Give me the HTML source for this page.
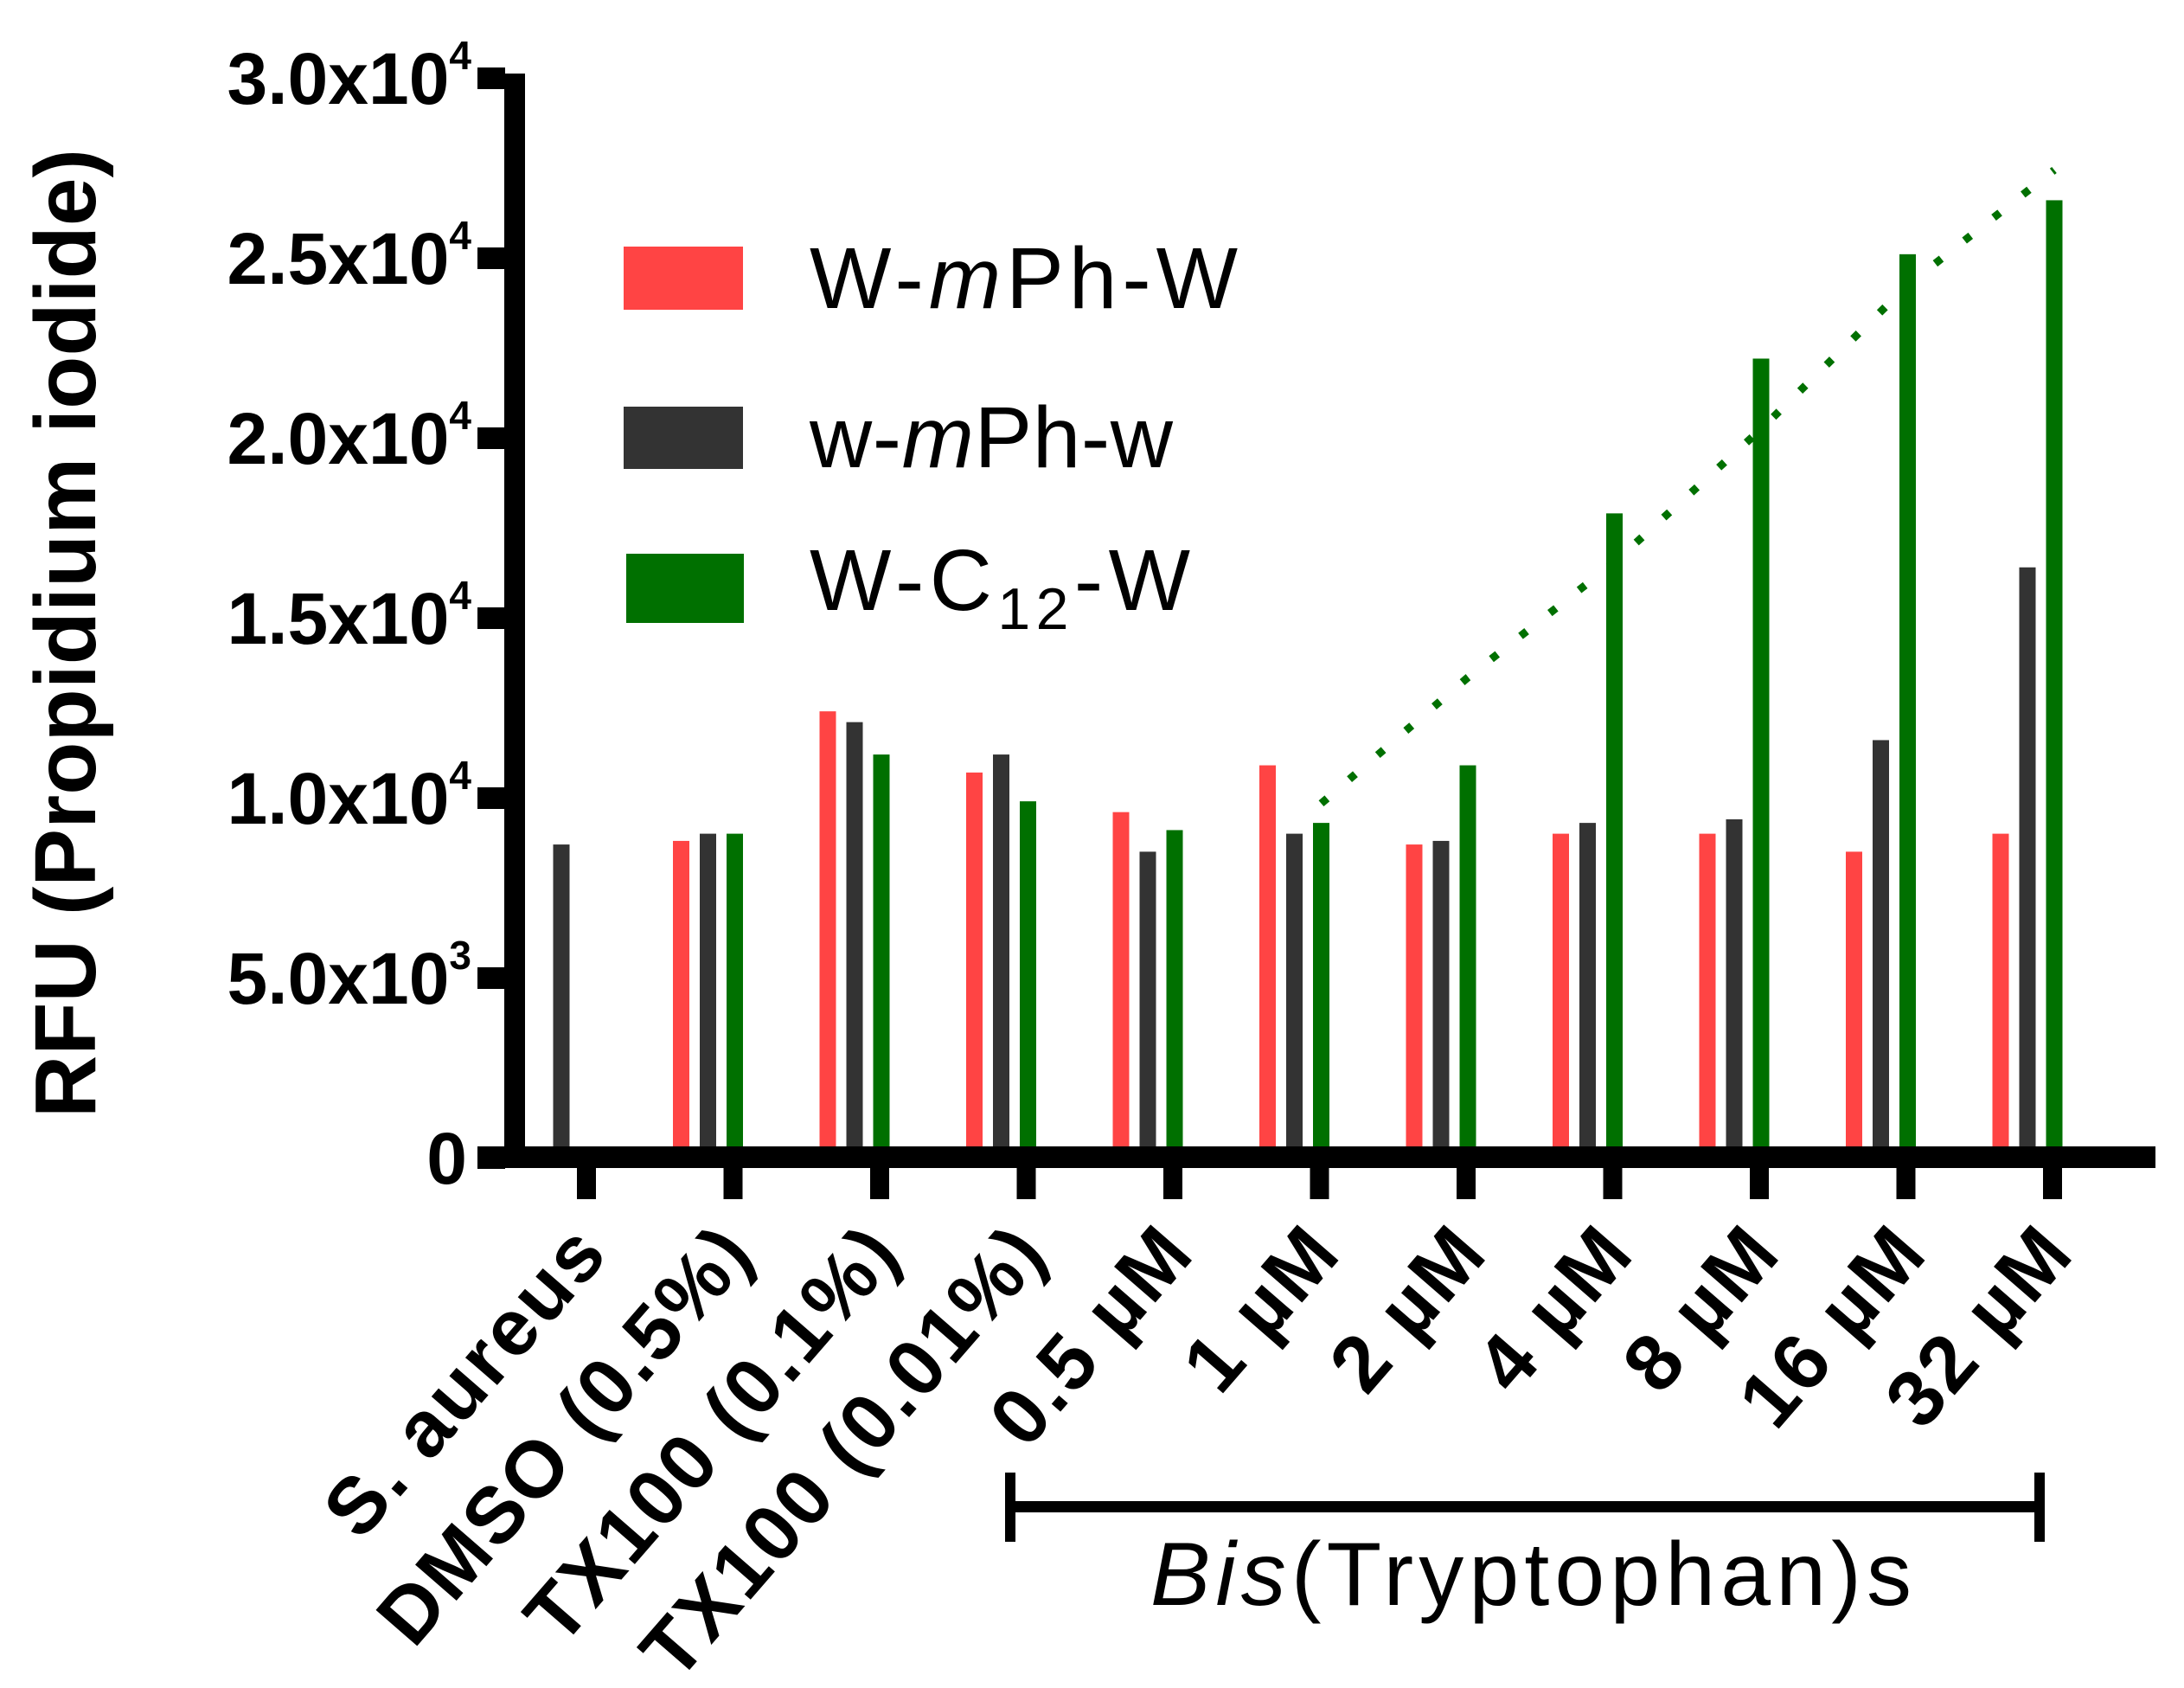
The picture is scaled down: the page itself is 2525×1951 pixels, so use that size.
<!DOCTYPE html>
<html><head><meta charset="utf-8"><style>
html,body{margin:0;padding:0;background:#fff;}
svg{display:block;font-family:"Liberation Sans",Arial,sans-serif;}
</style></head><body>
<svg id="chart" width="2525" height="1951" viewBox="0 0 2525 1951" xmlns="http://www.w3.org/2000/svg">
<g id="bars"></g>
<g id="axes"></g>
<g id="labels"></g>
<text transform="translate(110,732) rotate(-90)" text-anchor="middle" font-size="100" font-weight="bold" textLength="1120" lengthAdjust="spacing">RFU (Propidium iodide)</text>
<g>
 <rect x="721" y="285" width="138" height="73" fill="#f44"/>
 <text x="936" y="356" font-size="100" textLength="495" lengthAdjust="spacing">W-<tspan font-style="italic">m</tspan>Ph-W</text>
 <rect x="721" y="470" width="138" height="72" fill="#333"/>
 <text x="936" y="540" font-size="100" textLength="420" lengthAdjust="spacing">w-<tspan font-style="italic">m</tspan>Ph-w</text>
 <rect x="724" y="640" width="136" height="80" fill="#007000"/>
 <text x="936" y="705" font-size="100" textLength="440" lengthAdjust="spacing">W-C<tspan font-size="68" dy="22">12</tspan><tspan dy="-22">-W</tspan></text>
</g>
<g>
 <rect x="1168" y="1735" width="1190" height="13" fill="#000"/>
 <rect x="1162" y="1702" width="12" height="80" fill="#000"/>
 <rect x="2352" y="1702" width="12" height="80" fill="#000"/>
 <text x="1330" y="1855" font-size="104" textLength="880" lengthAdjust="spacing"><tspan font-style="italic">Bis</tspan>(Tryptophan)s</text>
</g>
<script>
const categories=["S. aureus","DMSO (0.5%)","TX100 (0.1%)","TX100 (0.01%)","0.5 µM","1 µM","2 µM","4 µM","8 µM","16 µM","32 µM"];
const redValues=[null,8800,12400,10700,9600,10900,8700,9000,9000,8500,9000];
const blackValues=[8700,9000,12100,11200,8500,9000,8800,9300,9400,11600,16400];
const greenValues=[null,9000,11200,9900,9100,9300,10900,17900,22200,25100,26600];
const trendCats=[5,6,7,8,9,10];
const trendValues=[9600,13100,16300,20000,24000,27200];
const yTicks=[0,5000,10000,15000,20000,25000,30000];
const yTickLabels=["0","5.0x10|3","1.0x10|4","1.5x10|4","2.0x10|4","2.5x10|4","3.0x10|4"];

const NS="http://www.w3.org/2000/svg";
const y0=1338, pxPer=208/5000;
function yScale(v){return y0-v*pxPer;}
function xScale(i){return 678+i*169.5;}
function mk(tag,attrs,parent){const e=document.createElementNS(NS,tag);for(const k in attrs)e.setAttribute(k,attrs[k]);parent.appendChild(e);return e;}
const bars=document.getElementById('bars'),axes=document.getElementById('axes'),labels=document.getElementById('labels');
const barTop=1325;
const series=[[redValues,"#f44",-60,"red"],[blackValues,"#333",-29,"black"],[greenValues,"#007000",2,"green"]];
series.forEach(s=>{s[0].forEach((v,i)=>{if(v==null)return;const cx=xScale(i)+s[2];const y=yScale(v);
 const r=mk('rect',{x:cx-9.5,y:y,width:19,height:barTop-y,fill:s[1]},bars);
 
 });});
let d='';trendCats.forEach((c,k)=>{d+=(k?'L':'M')+(xScale(c)+2)+','+(yScale(trendValues[k])-10);});
const tl=mk('path',{d:d,fill:'none',stroke:'#007000','stroke-width':9,'stroke-dasharray':'9 34'},bars);


const ya=mk('rect',{x:583,y:85,width:24,height:1265,fill:'#000'},axes);


const xa=mk('rect',{x:552,y:1325,width:1940,height:25,fill:'#000'},axes);


yTicks.forEach((v,k)=>{const y=yScale(v);
 const t=mk('rect',{x:552,y:y-12,width:32,height:25,fill:'#000'},axes);
 
 
 const parts=yTickLabels[k].split('|');
 const tx=mk('text',{x:parts[1]?545:540,y:y+30,'text-anchor':'end','font-size':84,'font-weight':'bold'},labels);
 
 
 tx.textContent=parts[0];
 if(parts[1]){const sp=mk('tspan',{'font-size':46,dy:-40},tx);sp.textContent=parts[1];}
});
categories.forEach((c,i)=>{const x=xScale(i);
 const t=mk('rect',{x:x-11,y:1340,width:22,height:46,fill:'#000'},axes);
 
 
 const tx=mk('text',{x:0,y:0,transform:'translate('+(x+28)+',1450) rotate(-49)','text-anchor':'end','font-size':92,'font-weight':'bold','letter-spacing':3},labels);
 
 
 tx.textContent=c;
});
</script>
</svg>
</body></html>
